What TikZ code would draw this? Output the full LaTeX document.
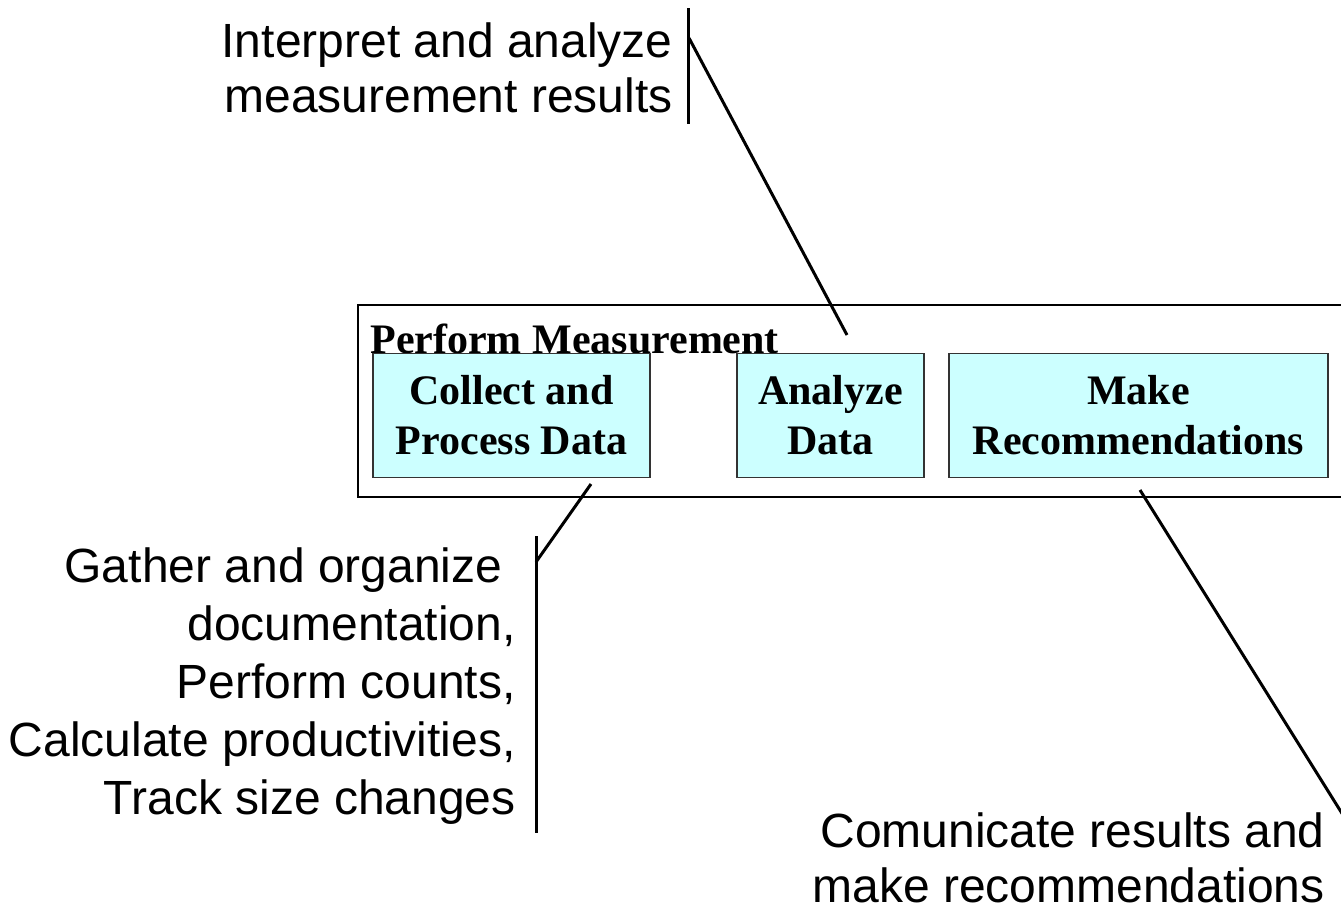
\documentclass[tikz,border=0pt]{standalone}
\usepackage{fontspec}
\setmainfont{Liberation Serif}
\newfontfamily\arialf{Liberation Sans}
\begin{document}
\begin{tikzpicture}[x=0.5pt,y=-0.5pt,
  stepbox/.style={draw=black!80, line width=0.75pt, fill=boxcyan, inner sep=0pt, align=center,
    font=\fontsize{21}{25}\selectfont\bfseries},
  note/.style={inner sep=0pt, align=right, font=\arialf\fontsize{24}{29}\selectfont},
  lead/.style={line width=1.5pt, black},
  frame/.style={draw=black, line width=1pt, inner sep=0pt}]
\definecolor{boxcyan}{HTML}{CCFFFF}
\useasboundingbox (0,0) rectangle (1341,910);
% outer frame
\node[frame, minimum width=501pt, minimum height=96pt] (pm) at (859,401) {};
\node[inner sep=0pt, anchor=base west, font=\fontsize{21}{25}\selectfont\bfseries] (pmt) at (370,353) {Perform Measurement};
% boxes
\node[stepbox, minimum width=138.5pt, minimum height=62pt] (collect) at (511.5,415.5) {Collect and\\Process Data};
\node[stepbox, minimum width=93.5pt, minimum height=62pt] (analyze) at (830.5,415.5) {Analyze\\Data};
\node[stepbox, minimum width=189.5pt, minimum height=62pt] (make) at (1138.5,415.5) {Make\\Recommendations};
% top callout
\node[note, anchor=east, font=\arialf\fontsize{24}{27.5}\selectfont] (tnote) at (673,68) {Interpret and analyze\\measurement results};
\coordinate (tb1) at (688,8);
\coordinate (tb2) at (688,124);
\coordinate (tk) at (689,38);
\coordinate (ta) at (847,335);
\draw[lead] (tb1) -- (tb2);
\draw[lead] (tk) -- (ta);
% bottom-left callout
\node[note, anchor=east] (lnote) at (516,686) {Gather and organize\hspace*{0.278em}\\documentation,\\Perform counts,\\Calculate productivities,\\Track size changes};
\coordinate (lb1) at (536,536);
\coordinate (lb2) at (536,833);
\coordinate (lk) at (536,562);
\coordinate (la) at (591,484);
\draw[lead] (lb1) -- (lb2);
\draw[lead] (lk) -- (la);
% bottom-right callout
\node[note, anchor=east, font=\arialf\fontsize{24}{27.5}\selectfont] (rnote) at (1325,858) {Comunicate results and\\make recommendations};
\coordinate (ra) at (1140,490);
\coordinate (rk) at (1343,815);
\draw[lead] (ra) -- (rk);
\end{tikzpicture}
\end{document}
